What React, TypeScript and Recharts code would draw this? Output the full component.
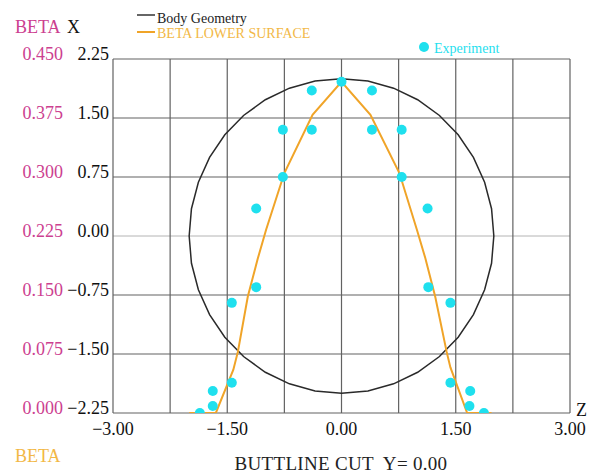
import React from 'react';
import { ScatterChart, Scatter, XAxis, YAxis, ReferenceLine } from 'recharts';

const zTicks = [-3, -1.5, 0, 1.5, 3];
const xTicks = [-2.25, -1.5, -0.75, 0, 0.75, 1.5, 2.25];
const betaTicks = [0, 0.075, 0.15, 0.225, 0.3, 0.375, 0.45];
const zGrid = [-3, -2.25, -1.5, -0.75, 0, 0.75, 1.5, 2.25, 3];
const xGrid = [-2.25, -1.5, -0.75, 0.75, 1.5, 2.25];
const xZero = [0];

// Body geometry (circular cross-section)
const bodyZ = [2.0, 1.97, 1.879, 1.732, 1.532, 1.286, 1.0, 0.684, 0.347, 0.0, -0.347, -0.684, -1.0, -1.286, -1.532, -1.732, -1.879, -1.97, -2.0, -1.97, -1.879, -1.732, -1.532, -1.286, -1.0, -0.684, -0.347, 0.0, 0.347, 0.684, 1.0, 1.286, 1.532, 1.732, 1.879, 1.97, 2.0];
const bodyX = [0.0, 0.347, 0.684, 1.0, 1.286, 1.532, 1.732, 1.879, 1.97, 2.0, 1.97, 1.879, 1.732, 1.532, 1.286, 1.0, 0.684, 0.347, 0.0, -0.347, -0.684, -1.0, -1.286, -1.532, -1.732, -1.879, -1.97, -2.0, -1.97, -1.879, -1.732, -1.532, -1.286, -1.0, -0.684, -0.347, 0.0];

// BETA lower surface
const betaZ = [-2.0, -1.65, -1.42, -1.36, -1.23, -1.1, -0.99, -0.75, -0.38, 0.0, 0.38, 0.76, 0.99, 1.1, 1.23, 1.38, 1.43, 1.65, 1.97];
const betaVal = [0.0, 0.0, 0.055, 0.078, 0.148, 0.196, 0.233, 0.305, 0.379, 0.421, 0.379, 0.305, 0.233, 0.197, 0.148, 0.078, 0.058, 0.0, 0.0];

// Experiment
const expZ = [-1.86, -1.69, -1.69, -1.44, -1.44, -1.12, -1.12, -0.77, -0.77, -0.39, -0.39, 0.0, 0.4, 0.4, 0.79, 0.79, 1.13, 1.14, 1.43, 1.43, 1.69, 1.68, 1.87];
const expBeta = [0.0, 0.009, 0.028, 0.0385, 0.14, 0.16, 0.26, 0.3, 0.36, 0.36, 0.41, 0.421, 0.41, 0.36, 0.36, 0.3, 0.26, 0.16, 0.14, 0.0385, 0.028, 0.009, 0.0];

const bodyData = bodyZ.map((z, i) => ({ z, x: bodyX[i] }));
const betaData = betaZ.map((z, i) => ({ z, b: betaVal[i] }));
const expData = expZ.map((z, i) => ({ z, b: expBeta[i] }));

const FONT = '"Liberation Serif", "DejaVu Serif", serif';
const MAGENTA = '#cc4090';
const ORANGE = '#f0a428';
const ORANGE_TEXT = '#f2b846';
const CYAN = '#1fe0ee';
const GRID = '#626262';

const fmt = (v: number, d: number) => (v < 0 ? '\u2212' + Math.abs(v).toFixed(d) : v.toFixed(d));

const XTick = (props: any) => (
  <text x={props.x} y={props.y + 1} textAnchor="end" fontFamily={FONT} fontSize={18} fill="#111">
    {fmt(props.payload.value, 2)}
  </text>
);
const BetaTick = (props: any) => (
  <text x={props.x} y={props.y + 1} textAnchor="end" fontFamily={FONT} fontSize={18} fill={MAGENTA}>
    {fmt(props.payload.value, 3)}
  </text>
);
const ZTick = (props: any) => (
  <text x={props.x} y={props.y + 22} textAnchor="middle" fontFamily={FONT} fontSize={18} fill="#111">
    {fmt(props.payload.value, 2)}
  </text>
);

const noShape = () => <g />;
const dotShape = (p: any) => <circle cx={p.cx} cy={p.cy} r={5} fill={CYAN} />;

const XID = 'ax';
const BID = 'beta';

export default function App() {
  return (
    <div style={{ position: 'fixed', left: 0, top: 0, width: 596, height: 475, background: '#fff' }}>
      <ScatterChart width={596} height={475} margin={{ top: 59, right: 26, bottom: 32, left: 20 }}>
        <XAxis
          type="number"
          dataKey="z"
          domain={[-3, 3]}
          ticks={zTicks}
          allowDataOverflow
          axisLine={false}
          tickLine={false}
          tickSize={0}
          tickMargin={0}
          height={30}
          tick={ZTick}
          interval={0}
        />
        <YAxis
          yAxisId={XID}
          type="number"
          dataKey="x"
          domain={[-2.25, 2.25]}
          ticks={xTicks}
          allowDataOverflow
          axisLine={false}
          tickLine={false}
          tickSize={0}
          tickMargin={4}
          width={48}
          tick={XTick}
          interval={0}
        />
        <YAxis
          yAxisId={BID}
          type="number"
          dataKey="b"
          domain={[0, 0.45]}
          ticks={betaTicks}
          allowDataOverflow
          axisLine={false}
          tickLine={false}
          tickSize={0}
          tickMargin={2}
          width={45}
          tick={BetaTick}
          interval={0}
        />
        {xZero.map((v) => (
          <ReferenceLine key={'h0' + v} y={v} yAxisId={XID} stroke="#b4b4b4" strokeWidth={1} />
        ))}
        {zGrid.map((v) => (
          <ReferenceLine key={'v' + v} x={v} yAxisId={XID} stroke={GRID} strokeWidth={1.2} />
        ))}
        {xGrid.map((v) => (
          <ReferenceLine key={'h' + v} y={v} yAxisId={XID} stroke={GRID} strokeWidth={1.2} />
        ))}
        <Scatter
          name="Body Geometry"
          data={bodyData}
          yAxisId={XID}
          line={{ stroke: '#2a2a2a', strokeWidth: 1.5 }}
          lineType="joint"
          shape={noShape}
          isAnimationActive={false}
        />
        <Scatter
          name="BETA LOWER SURFACE"
          data={betaData}
          yAxisId={BID}
          line={{ stroke: ORANGE, strokeWidth: 2 }}
          lineType="joint"
          shape={noShape}
          isAnimationActive={false}
        />
        <Scatter
          name="Experiment"
          data={expData}
          yAxisId={BID}
          shape={dotShape}
          isAnimationActive={false}
        />
      </ScatterChart>
      <svg
        width={596}
        height={475}
        style={{ position: 'absolute', left: 0, top: 0, pointerEvents: 'none' }}
      >
        <text x={15} y={33} fontFamily={FONT} fontSize={18} fill={MAGENTA}>BETA</text>
        <text x={67} y={33} fontFamily={FONT} fontSize={18} fill="#111">X</text>
        <line x1={137} y1={15} x2={155} y2={15} stroke="#333" strokeWidth={1.5} />
        <text x={157} y={23} fontFamily={FONT} fontSize={14} fill="#222">Body Geometry</text>
        <line x1={137} y1={32} x2={155} y2={32} stroke={ORANGE} strokeWidth={2} />
        <text x={157} y={38} fontFamily={FONT} fontSize={14} fill={ORANGE_TEXT}>BETA LOWER SURFACE</text>
        <circle cx={424} cy={47} r={5} fill={CYAN} />
        <text x={434} y={53} fontFamily={FONT} fontSize={14} fill={CYAN}>Experiment</text>
        <text x={576} y={416} fontFamily={FONT} fontSize={18} fill="#111">Z</text>
        <text x={15} y={462} fontFamily={FONT} fontSize={18} fill={ORANGE_TEXT}>BETA</text>
        <text x={341} y={470} textAnchor="middle" fontFamily={FONT} fontSize={19} letterSpacing={0.3} fill="#222" style={{ whiteSpace: 'pre' }}>
          {'BUTTLINE CUT  Y= 0.00'}
        </text>
      </svg>
    </div>
  );
}
